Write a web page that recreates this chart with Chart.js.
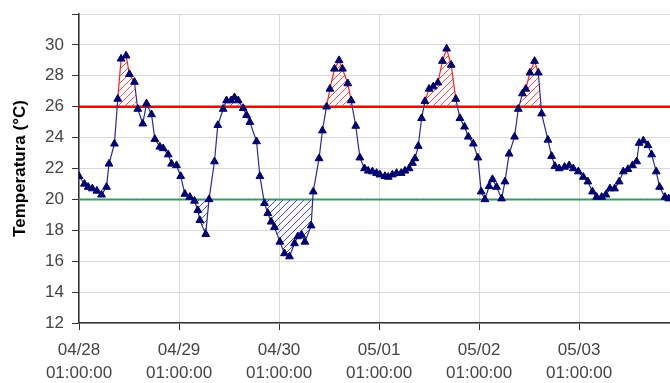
<!DOCTYPE html>
<html>
<head>
<meta charset="utf-8">
<script src="https://cdn.jsdelivr.net/npm/chart.js@4.4.0/dist/chart.umd.min.js"></script>
<style>
    html, body { margin: 0; padding: 0; background: #fff; }
    #wrap { width: 670px; height: 383px; }
</style>
</head>
<body>
<div id="wrap"><canvas id="temp-chart"></canvas></div>
<script>
// Hours since 04/28 01:00:00
const hours = [
    0.0, 1.3, 2.2, 3.2, 4.3, 5.4, 6.6, 7.2, 8.5, 9.3, 10.1, 11.3, 12.1, 13.3, 14.1, 15.3, 16.2, 17.4, 18.2, 19.4,
    20.2, 21.4, 22.2, 23.4, 24.4, 25.4, 26.6, 27.7, 28.5, 29.0, 30.4, 31.2, 32.5, 33.3, 34.6, 35.4, 36.5, 37.3, 38.2, 39.4,
    40.2, 41.0, 42.6, 43.4, 44.5, 45.3, 46.1, 46.9, 48.2, 49.3, 50.5, 51.7, 52.5, 53.4, 54.2, 55.7, 56.2, 57.6, 58.4, 59.4,
    60.2, 61.3, 62.4, 63.2, 64.5, 65.3, 66.4, 67.4, 68.5, 69.4, 70.4, 71.4, 72.2, 73.4, 74.2, 75.2, 76.2, 77.3, 78.2, 79.2,
    80.0, 80.6, 81.4, 82.2, 83.0, 84.0, 85.0, 86.1, 87.2, 88.2, 89.3, 90.4, 91.4, 92.5, 93.4, 94.6, 95.7, 96.5, 97.4, 98.4,
    99.2, 100.2, 101.4, 102.2, 103.2, 104.5, 105.4, 106.4, 107.2, 108.2, 109.3, 110.2, 111.0, 112.5, 113.4, 114.2, 115.2, 116.5, 117.6, 118.6,
    119.8, 121.0, 122.1, 123.2, 124.2, 125.4, 126.4, 127.4, 128.5, 129.6, 130.6, 131.7, 132.8, 133.8, 134.4, 135.4, 136.5, 137.4, 138.5, 139.3,
    140.6, 141.5
];
const temps = [
    21.5, 21.0, 20.8, 20.7, 20.55, 20.3, 20.8, 22.3, 23.6, 26.5, 29.1, 29.3, 28.1, 27.6, 25.85, 24.9, 26.2, 25.5, 23.9, 23.4,
    23.3, 22.9, 22.3, 22.2, 21.5, 20.35, 20.15, 19.9, 19.3, 18.65, 17.75, 20.0, 22.45, 24.8, 25.85, 26.4, 26.4, 26.6, 26.4, 25.9,
    25.45, 25.0, 23.75, 21.5, 19.75, 19.1, 18.55, 18.2, 17.25, 16.5, 16.3, 17.15, 17.6, 17.7, 17.25, 18.3, 20.5, 22.65, 24.45, 26.0,
    27.15, 28.45, 29.0, 28.45, 27.5, 26.4, 24.75, 22.7, 22.0, 21.85, 21.8, 21.7, 21.6, 21.5, 21.45, 21.6, 21.7, 21.7, 21.85, 22.0,
    22.35, 22.65, 23.45, 25.25, 26.35, 27.15, 27.3, 27.55, 28.95, 29.75, 28.7, 26.5, 25.25, 24.7, 24.05, 23.6, 22.7, 20.5, 20.0, 20.85,
    21.3, 20.8, 20.05, 21.15, 22.95, 24.05, 25.85, 26.85, 27.15, 28.2, 28.95, 28.2, 25.55, 23.85, 22.8, 22.15, 22.0, 22.1, 22.2, 22.0,
    21.8, 21.45, 21.15, 20.5, 20.15, 20.15, 20.3, 20.7, 20.7, 21.15, 21.8, 21.95, 22.2, 22.45, 23.65, 23.8, 23.5, 22.9, 21.8, 20.8,
    20.15, 20.05
];
const dayLabels = ['04/28', '04/29', '04/30', '05/01', '05/02', '05/03'];
const timeLabel = '01:00:00';
const upperLimit = 26;
const lowerLimit = 20;
const xEnd = 141.8;

// Diagonal hatch pattern for the shaded areas
function hatch(color) {
    const c = document.createElement('canvas');
    c.width = 7;
    c.height = 7;
    const g = c.getContext('2d');
    g.strokeStyle = color;
    g.lineWidth = 1;
    g.beginPath();
    g.moveTo(0, 7); g.lineTo(7, 0);
    g.moveTo(-2, 2); g.lineTo(2, -2);
    g.moveTo(5, 9); g.lineTo(9, 5);
    g.stroke();
    return g.createPattern(c, 'repeat');
}

const points = hours.map((h, i) => ({ x: h, y: temps[i] }));
const lineColor = '#2a2a9c';
const redLine = '#ff2020';

new Chart(document.getElementById('temp-chart'), {
    type: 'line',
    data: {
        datasets: [{
            // measured temperature, hatched above the upper limit
            data: points,
            borderColor: lineColor,
            borderWidth: 1.2,
            pointStyle: 'triangle',
            pointRadius: 4.5,
            pointBackgroundColor: '#000070',
            pointBorderColor: '#000070',
            pointBorderWidth: 1,
            tension: 0,
            order: 0,
            segment: {
                borderColor: ctx => (ctx.p0.parsed.y >= upperLimit && ctx.p1.parsed.y >= upperLimit) ? redLine : lineColor
            },
            fill: { target: { value: upperLimit }, above: hatch('rgba(255,40,40,0.85)'), below: 'rgba(0,0,0,0)' }
        }, {
            // same data, hatched below the lower limit
            data: points,
            borderColor: 'rgba(0,0,0,0)',
            borderWidth: 0,
            pointRadius: 0,
            tension: 0,
            order: 1,
            fill: { target: { value: lowerLimit }, above: 'rgba(0,0,0,0)', below: hatch('rgba(40,40,255,0.85)') }
        }, {
            data: [{ x: 0, y: upperLimit }, { x: xEnd, y: upperLimit }],
            borderColor: '#ff0000',
            borderWidth: 2.5,
            pointRadius: 0,
            fill: false,
            order: 2
        }, {
            data: [{ x: 0, y: lowerLimit }, { x: xEnd, y: lowerLimit }],
            borderColor: '#3a9a62',
            borderWidth: 2,
            pointRadius: 0,
            fill: false,
            order: 2
        }]
    },
    options: {
        responsive: true,
        maintainAspectRatio: false,
        animation: false,
        layout: { autoPadding: false, padding: { top: 14, right: 0, left: 0, bottom: 0 } },
        scales: {
            x: {
                type: 'linear',
                min: 0,
                max: xEnd,
                afterBuildTicks: scale => {
                    scale.ticks = dayLabels.map((_, i) => ({ value: i * 24 }));
                },
                afterFit: scale => {
                    scale.height = 60;
                    scale.paddingLeft = 0;
                    scale.paddingRight = 0;
                },
                grid: { color: '#d9d9d9', tickColor: '#333', tickLength: 7 },
                border: { color: '#333', width: 1.5 },
                ticks: {
                    color: '#444',
                    font: { family: 'Liberation Sans, Arial', size: 17, lineHeight: 1.4 },
                    padding: 8,
                    maxRotation: 0,
                    autoSkip: false,
                    callback: value => [dayLabels[Math.round(value / 24)], timeLabel]
                }
            },
            y: {
                min: 12,
                max: 32,
                afterFit: scale => {
                    scale.width = 79;
                    scale.paddingTop = 0;
                    scale.paddingBottom = 0;
                },
                grid: { color: '#d9d9d9', tickColor: '#333', tickLength: 7 },
                border: { color: '#333', width: 1.5 },
                ticks: {
                    stepSize: 2,
                    color: '#444',
                    padding: 8,
                    font: { family: 'Liberation Sans, Arial', size: 17 },
                    callback: value => value === 32 ? '' : value
                },
                title: {
                    display: true,
                    text: 'Temperatura (°C)',
                    color: '#000',
                    font: { family: 'Liberation Sans, Arial', size: 17, weight: 'bold' },
                    padding: { top: 10, bottom: 0 }
                }
            }
        },
        plugins: {
            legend: { display: false },
            tooltip: { enabled: false }
        }
    }
});
</script>
</body>
</html>
